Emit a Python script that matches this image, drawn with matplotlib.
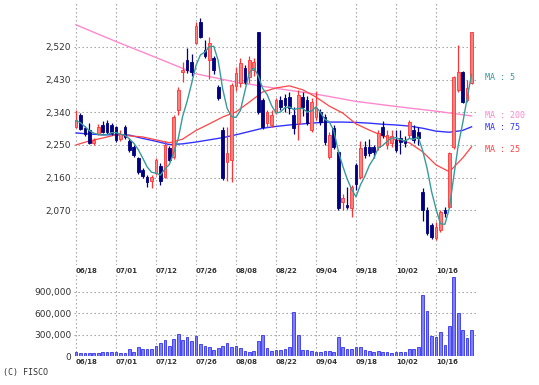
import matplotlib
matplotlib.use("Agg")
import matplotlib.pyplot as plt
import numpy as np
import pandas as pd

# ---------------- data ----------------
date_labels = ["06/18", "07/01", "07/12", "07/26", "08/08",
               "08/22", "09/04", "09/18", "10/02", "10/16"]
date_pos = [0, 9, 18, 27, 36, 45, 54, 63, 72, 81]

opens = [2300, 2333, 2297, 2290, 2256, 2280, 2305, 2311, 2305, 2300,
         2266, 2300, 2262, 2245, 2214, 2180, 2162, 2150, 2173, 2192,
         2162, 2242, 2217, 2346, 2451, 2484, 2479, 2531, 2589, 2512,
         2484, 2490, 2410, 2291, 2203, 2209, 2413, 2420, 2462, 2437,
         2457, 2561, 2374, 2311, 2305, 2341, 2374, 2380, 2382, 2333,
         2311, 2382, 2374, 2291, 2327, 2341, 2327, 2217, 2297, 2231,
         2093, 2085, 2077, 2195, 2162, 2245, 2245, 2245, 2245, 2300,
         2250, 2255, 2264, 2270, 2264, 2278, 2291, 2286, 2121, 2071,
         2030, 1994, 2016, 2071, 2079, 2245, 2402, 2451, 2374, 2420]
closes = [2318, 2294, 2280, 2256, 2264, 2300, 2286, 2286, 2283, 2264,
          2280, 2272, 2235, 2223, 2176, 2165, 2148, 2162, 2209, 2150,
          2250, 2209, 2327, 2402, 2457, 2457, 2451, 2578, 2548, 2495,
          2531, 2457, 2380, 2159, 2228, 2415, 2448, 2476, 2424, 2484,
          2479, 2341, 2300, 2341, 2333, 2374, 2355, 2360, 2352, 2297,
          2388, 2355, 2311, 2368, 2352, 2313, 2258, 2278, 2245, 2077,
          2104, 2079, 2134, 2141, 2242, 2223, 2228, 2231, 2283, 2278,
          2278, 2275, 2236, 2258, 2256, 2313, 2264, 2269, 2071, 2008,
          1996, 2024, 2065, 2063, 2228, 2437, 2451, 2368, 2407, 2561]
highs = [2346, 2338, 2302, 2311, 2270, 2308, 2315, 2320, 2310, 2303,
         2290, 2305, 2268, 2250, 2218, 2186, 2168, 2168, 2215, 2200,
         2262, 2248, 2333, 2410, 2479, 2517, 2500, 2589, 2600, 2540,
         2548, 2495, 2415, 2300, 2300, 2420, 2465, 2490, 2470, 2495,
         2490, 2561, 2380, 2346, 2345, 2380, 2385, 2390, 2395, 2355,
         2402, 2395, 2385, 2380, 2400, 2350, 2335, 2285, 2305, 2236,
         2115, 2134, 2140, 2200, 2262, 2262, 2265, 2250, 2290, 2315,
         2290, 2290, 2290, 2290, 2275, 2320, 2305, 2300, 2130, 2080,
         2035, 2038, 2070, 2080, 2230, 2440, 2526, 2455, 2430, 2561]
lows = [2296, 2290, 2275, 2252, 2250, 2276, 2282, 2280, 2278, 2258,
        2262, 2266, 2230, 2218, 2170, 2160, 2135, 2132, 2167, 2140,
        2158, 2205, 2212, 2333, 2424, 2448, 2440, 2528, 2545, 2490,
        2432, 2445, 2375, 2154, 2150, 2148, 2400, 2410, 2418, 2420,
        2440, 2335, 2295, 2300, 2300, 2335, 2345, 2340, 2335, 2280,
        2264, 2330, 2305, 2285, 2320, 2305, 2250, 2210, 2240, 2071,
        2071, 2074, 2052, 2125, 2155, 2215, 2220, 2215, 2235, 2270,
        2240, 2245, 2230, 2225, 2245, 2270, 2255, 2250, 2041, 2002,
        1990, 1988, 2010, 2050, 2075, 2240, 2396, 2365, 2368, 2418]
volumes = [60, 38, 38, 38, 38, 38, 50, 50, 50, 50,
           38, 38, 94, 60, 122, 94, 94, 97, 140, 178,
           225, 140, 239, 309, 225, 272, 211, 281, 168, 140,
           122, 84, 108, 145, 178, 122, 145, 108, 70, 60,
           70, 211, 295, 108, 75, 84, 84, 97, 131, 623,
           295, 84, 84, 75, 60, 60, 75, 70, 50, 262,
           131, 97, 97, 122, 122, 84, 75, 50, 75, 60,
           50, 38, 60, 60, 50, 97, 97, 131, 858, 637,
           281, 262, 333, 155, 427, 1115, 600, 365, 248, 365]  # thousands

prior_closes = [2320, 2335, 2310, 2300]  # closes before 06/18 (for MA5)

ma25_idx = [0, 3, 6, 9, 12, 15, 18, 21, 24, 27, 30, 33, 36, 39, 42, 45,
            48, 51, 54, 57, 60, 63, 66, 69, 72, 75, 78, 81, 84, 87, 89]
ma25_val = [2250, 2261, 2269, 2278, 2275, 2272, 2264, 2256, 2266, 2290,
            2308, 2327, 2341, 2368, 2396, 2407, 2413, 2402, 2382, 2357,
            2338, 2308, 2291, 2275, 2264, 2256, 2231, 2195, 2176, 2214, 2245]
ma75_idx = ma25_idx
ma75_val = [2283, 2280, 2278, 2278, 2277, 2268, 2260, 2251, 2253, 2258,
            2264, 2270, 2278, 2287, 2296, 2301, 2305, 2308, 2311, 2313,
            2313, 2312, 2310, 2307, 2305, 2302, 2296, 2288, 2285, 2290, 2300]
ma200_idx = [0, 9, 18, 27, 36, 45, 54, 63, 72, 81, 89]
ma200_val = [2581, 2535, 2491, 2446, 2423, 2406, 2390, 2370, 2356, 2343, 2330]

price_ticks = [2070, 2160, 2250, 2340, 2430, 2520]
vol_ticks = [0, 300000, 600000, 900000]

# ---------------- styling ----------------
W, H = 539, 385
RED_FILL = "#ff8080"
RED_EDGE = "#ff3333"
NAVY = "#000080"
C_MA5 = "#3a9a9a"
C_MA25 = "#ff4444"
C_MA75 = "#3333ff"
C_MA200 = "#ff88cc"
GRID = dict(color="#999999", linestyle=(0, (1.2, 2.4)), linewidth=0.8)
TXT = "#333333"

fig = plt.figure(figsize=(W / 100, H / 100), dpi=100)
fig.patch.set_facecolor("white")

def px_axes(x0, y0, x1, y1):
    return fig.add_axes([x0 / W, 1 - y1 / H, (x1 - x0) / W, (y1 - y0) / H])

ax = px_axes(74, 2, 478, 265)
axv = px_axes(74, 275, 478, 356)

n = len(closes)
x = np.arange(n)
o = np.array(opens); c = np.array(closes)
hi = np.array(highs); lo = np.array(lows)
up = c >= o

# wicks
ax.vlines(x[up], lo[up], hi[up], color=RED_EDGE, linewidth=0.9, zorder=3)
ax.vlines(x[~up], lo[~up], hi[~up], color=NAVY, linewidth=0.9, zorder=3)
# bodies
body_lo = np.minimum(o, c)
body_h = np.maximum(np.abs(c - o), 2)
ax.bar(x[up], body_h[up], bottom=body_lo[up], width=0.62,
       color=RED_FILL, edgecolor=RED_EDGE, linewidth=0.6, zorder=4)
ax.bar(x[~up], body_h[~up], bottom=body_lo[~up], width=0.62,
       color=NAVY, edgecolor=NAVY, linewidth=0.6, zorder=4)

# moving averages
ma5 = pd.Series(prior_closes + closes).rolling(5).mean().to_numpy()[len(prior_closes):]
ax.plot(ma200_idx, ma200_val, color=C_MA200, linewidth=1.0, zorder=2)
ax.plot(ma75_idx, ma75_val, color=C_MA75, linewidth=1.0, zorder=2)
ax.plot(ma25_idx, ma25_val, color=C_MA25, linewidth=0.9, zorder=2)
ax.plot(x, ma5, color=C_MA5, linewidth=1.0, zorder=5)

ax.set_xlim(-0.45, n + 0.45)
ax.set_ylim(1919, 2644)
ax.set_yticks(price_ticks)
ax.set_yticklabels([f"{t:,}" for t in price_ticks])
ax.set_xticks(date_pos)
ax.set_xticklabels(date_labels)
ax.grid(True, **GRID)
ax.set_axisbelow(True)

# volume
axv.bar(x, np.array(volumes) * 1000, width=0.62, color="#8080ff",
        edgecolor="#3333ee", linewidth=0.6, zorder=3)
axv.set_xlim(-0.45, n + 0.45)
axv.set_ylim(0, 1139000)
axv.set_yticks(vol_ticks)
axv.set_yticklabels([f"{t:,}" for t in vol_ticks])
axv.set_xticks(date_pos)
axv.set_xticklabels(date_labels)
axv.grid(True, axis="x", **GRID)
for t in vol_ticks[1:]:
    axv.axhline(t, zorder=1, **GRID)

for a in (ax, axv):
    for s in a.spines.values():
        s.set_visible(False)
    a.tick_params(axis="both", length=0)
    a.tick_params(axis="y", pad=2, labelsize=6.5, labelcolor=TXT)
    a.tick_params(axis="x", pad=2, labelsize=5, labelcolor=TXT)
    for lab in a.get_xticklabels():
        lab.set_horizontalalignment("left")
        lab.set_fontweight("bold")
    a.set_facecolor("white")

# MA labels on the right
mono = "DejaVu Sans Mono"
for txt, ypx, col in [("MA : 5", 77, C_MA5), ("MA : 200", 116, C_MA200),
                      ("MA : 75", 128, C_MA75), ("MA : 25", 149, C_MA25)]:
    fig.text(485 / W, 1 - ypx / H, txt, color=col, fontsize=6,
             family=mono, va="center", ha="left")

fig.text(3 / W, 1 - 373 / H, "(C) FISCO", color=TXT, fontsize=6,
         family=mono, va="center", ha="left")

fig.savefig("out.png", dpi=100, facecolor="white")
